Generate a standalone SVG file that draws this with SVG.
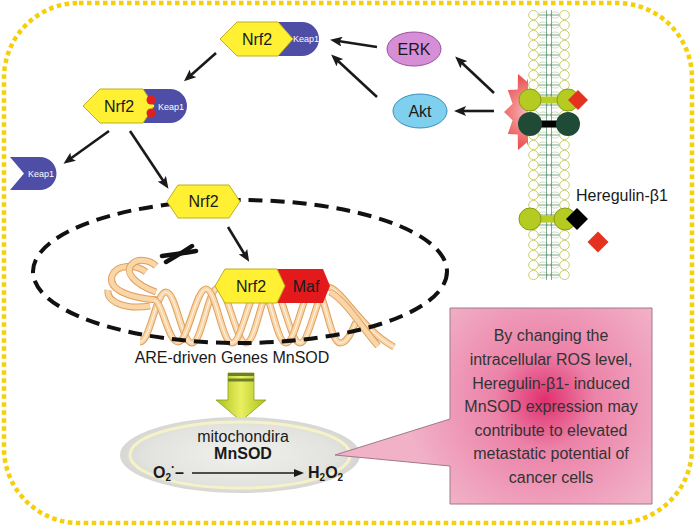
<svg xmlns="http://www.w3.org/2000/svg" width="699" height="527" viewBox="0 0 699 527">
<style>
text{font-family:"Liberation Sans",Arial,sans-serif;}
.nrf{fill:#FFF033;stroke:#BFAE22;stroke-width:1;}
.keap{fill:#4E4EA6;}
.kt{fill:#fff;font-size:9px;text-anchor:middle;}
.lbl{font-size:16px;fill:#1a1a1a;text-anchor:middle;}
.arr{stroke:#1a1a1a;stroke-width:2.6;fill:none;marker-end:url(#ah);}
.lg{fill:#B5CB22;stroke:#8A9C12;stroke-width:1;}
.dg{fill:#1E4A36;}
.rib0{fill:none;stroke:#DDA062;stroke-width:7;stroke-linecap:butt;}
.rib1{fill:none;stroke:#FAD5A6;stroke-width:5;stroke-linecap:butt;}
.rib2{fill:none;stroke:#FFF6EA;stroke-width:1;}
.ct{font-size:16px;fill:#333;text-anchor:middle;}
</style>
<defs>
<marker id="ah" viewBox="0 0 12 10" refX="4" refY="5" markerWidth="12" markerHeight="10" markerUnits="userSpaceOnUse" orient="auto">
<path d="M0,0 L12,5 L0,10 L2.5,5 Z" fill="#1a1a1a"/>
</marker>
<marker id="ah2" viewBox="0 0 10 8" refX="8" refY="4" markerWidth="10" markerHeight="8" markerUnits="userSpaceOnUse" orient="auto">
<path d="M0,0 L10,4 L0,8 Z" fill="#1a1a1a"/>
</marker>
<pattern id="lipid" x="528" y="10" width="42" height="10" patternUnits="userSpaceOnUse">
<rect width="42" height="10" fill="#fff"/>
<ellipse cx="15" cy="5" rx="4.5" ry="3" fill="none" stroke="#A9CC90" stroke-width="0.6"/>
<ellipse cx="27" cy="5" rx="4.5" ry="3" fill="none" stroke="#A9CC90" stroke-width="0.6"/>
<line x1="18.5" y1="0" x2="18.5" y2="10" stroke="#4A8A65" stroke-width="0.7"/>
<line x1="23.5" y1="0" x2="23.5" y2="10" stroke="#4A8A65" stroke-width="0.7"/>
<line x1="11" y1="5" x2="31" y2="5" stroke="#3E7B58" stroke-width="0.7"/>
<ellipse cx="5.5" cy="5" rx="4.8" ry="4.6" fill="#fff" stroke="#C4C858" stroke-width="0.9"/>
<ellipse cx="36.5" cy="5" rx="4.8" ry="4.6" fill="#fff" stroke="#C4C858" stroke-width="0.9"/>
</pattern>
<radialGradient id="star" cx="532" cy="112" r="44" gradientUnits="userSpaceOnUse">
<stop offset="0" stop-color="#F9C4C4"/>
<stop offset="1" stop-color="#E83A3A"/>
</radialGradient>
<radialGradient id="mito" cx="0.5" cy="0.5" r="0.5">
<stop offset="0" stop-color="#F0F0EE"/>
<stop offset="0.8" stop-color="#E2E2DE"/>
<stop offset="1" stop-color="#D6D6D2"/>
</radialGradient>
<radialGradient id="pink" cx="545" cy="400" r="140" gradientUnits="userSpaceOnUse">
<stop offset="0" stop-color="#E0306E"/>
<stop offset="0.35" stop-color="#EC82A8"/>
<stop offset="1" stop-color="#F1B2C8"/>
</radialGradient>
<linearGradient id="garr" x1="0" y1="0" x2="1" y2="0">
<stop offset="0" stop-color="#A8C01C"/>
<stop offset="0.5" stop-color="#EAF060"/>
<stop offset="1" stop-color="#A8C01C"/>
</linearGradient>
</defs>

<rect id="cell-border" x="4" y="3" width="688" height="520" rx="75" ry="75" fill="none" stroke="#F5CF0A" stroke-width="4.5" stroke-dasharray="4.5 3.5"/>

<g id="nucleus-dna">
<path class="rib0" d="M158,300 C130,298 108,290 112,276 C116,264 136,264 146,272"/>
<path class="rib1" d="M158,300 C130,298 108,290 112,276 C116,264 136,264 146,272"/>
<path class="rib0" d="M156,292 C134,284 124,272 132,264 C138,258 150,260 156,266"/>
<path class="rib1" d="M156,292 C134,284 124,272 132,264 C138,258 150,260 156,266"/>
<path class="rib0" d="M150,306 C126,310 106,302 108,290"/>
<path class="rib1" d="M150,306 C126,310 106,302 108,290"/>
<path class="rib0" d="M140,342 C150,342 156,292 166,292 C176,292 182,343 192,343 C202,343 208,288 218,288 C228,288 236,343 246,343 C256,343 262,287 272,287 C282,287 290,343 300,343 C310,343 318,287 328,287 C340,287 362,330 394,347"/>
<path class="rib1" d="M140,342 C150,342 156,292 166,292 C176,292 182,343 192,343 C202,343 208,288 218,288 C228,288 236,343 246,343 C256,343 262,287 272,287 C282,287 290,343 300,343 C310,343 318,287 328,287 C340,287 362,330 394,347"/>
<path class="rib2" d="M140,342 C150,342 156,292 166,292 C176,292 182,343 192,343 C202,343 208,288 218,288 C228,288 236,343 246,343 C256,343 262,287 272,287 C282,287 290,343 300,343 C310,343 318,287 328,287 C340,287 362,330 394,347"/>
<path class="rib0" d="M154,300 C162,300 168,342 178,342 C188,342 196,289 206,289 C216,289 222,343 232,343 C242,343 250,287 260,287 C270,287 276,343 286,343 C296,343 304,286 314,286 C324,286 330,343 340,343 C348,343 352,330 356,322"/>
<path class="rib1" d="M154,300 C162,300 168,342 178,342 C188,342 196,289 206,289 C216,289 222,343 232,343 C242,343 250,287 260,287 C270,287 276,343 286,343 C296,343 304,286 314,286 C324,286 330,343 340,343 C348,343 352,330 356,322"/>
<path class="rib2" d="M154,300 C162,300 168,342 178,342 C188,342 196,289 206,289 C216,289 222,343 232,343 C242,343 250,287 260,287 C270,287 276,343 286,343 C296,343 304,286 314,286 C324,286 330,343 340,343 C348,343 352,330 356,322"/>
<path class="rib0" d="M330,292 C345,300 360,325 378,346"/>
<path class="rib1" d="M330,292 C345,300 360,325 378,346"/>
</g>

<g id="chromosome">
<path d="M162,256 Q179,254 196,251" fill="none" stroke="#111" stroke-width="4.5" stroke-linecap="round"/>
<path d="M166,262 Q180,254 192,246" fill="none" stroke="#111" stroke-width="4.5" stroke-linecap="round"/>
</g>

<ellipse id="nucleus" cx="240" cy="271.5" rx="207" ry="71.5" fill="none" stroke="#111" stroke-width="4" stroke-dasharray="14 8"/>

<g id="membrane">
<polygon fill="url(#star)" points="560,112 551.5,120.2 556.2,134 546.3,134.4 546,150.1 537.2,142.6 532,156 526.8,142.6 518,150.1 517.7,134.4 507.8,134 512.5,120.2 504,112 512.5,103.8 507.8,90 517.7,89.6 518,73.9 526.8,81.4 532,68 537.2,81.4 546,73.9 546.3,89.6 556.2,90 551.5,103.8"/>
<rect x="528" y="10" width="42" height="270" fill="url(#lipid)"/>
</g>

<g id="receptor-active">
<rect x="530" y="96.5" width="38" height="7" fill="#B8CE22"/>
<circle class="lg" cx="530" cy="100" r="11"/>
<circle class="lg" cx="568" cy="100" r="11"/>
<polygon points="578,90 588,100 578,110 568,100" fill="#E5321F"/>
<rect x="530" y="120.5" width="38" height="7" fill="#000"/>
<circle class="dg" cx="530" cy="124" r="12"/>
<circle class="dg" cx="568" cy="124" r="12"/>
</g>

<g id="receptor-ligand">
<rect x="530" y="215.5" width="35" height="7" fill="#B8CE22"/>
<circle class="lg" cx="530" cy="219" r="11"/>
<circle class="lg" cx="565" cy="219" r="11"/>
<polygon points="577,208 588,219 577,230 566,219" fill="#000"/>
</g>

<g id="heregulin">
<polygon points="598,231.5 608.5,242 598,252.5 587.5,242" fill="#E5321F"/>
<text x="576" y="201" font-size="16" fill="#1a1a1a">Heregulin-β1</text>
</g>

<g id="erk">
<ellipse cx="414" cy="49" rx="27" ry="17" fill="#D68FD6" stroke="#9A4FA0" stroke-width="1"/>
<text class="lbl" x="414" y="55">ERK</text>
</g>
<g id="akt">
<ellipse cx="420" cy="111" rx="27" ry="17" fill="#7FD0EE" stroke="#3A8FB8" stroke-width="1"/>
<text class="lbl" x="420" y="117">Akt</text>
</g>

<g id="nrf2-keap1-top">
<path class="keap" d="M270,22 H302 A17,17 0 0 1 302,56 H270 Z"/>
<polygon class="nrf" points="220,39 237,22 278,22 293,39 278,56 237,56"/>
<text class="lbl" x="257" y="45">Nrf2</text>
<text class="kt" x="306" y="42">Keap1</text>
</g>

<g id="nrf2-keap1-modified">
<path class="keap" d="M140,89 H170 A17,17 0 0 1 170,123 H140 Z"/>
<polygon class="nrf" points="83,106 100,89 143,89 154,106 143,123 100,123"/>
<circle cx="151" cy="100" r="4.5" fill="#E02020"/>
<circle cx="151" cy="113" r="4.5" fill="#E02020"/>
<rect x="149" y="105" width="5" height="2" fill="#FFF033"/>
<text class="lbl" x="119" y="112">Nrf2</text>
<text class="kt" x="171" y="110">Keap1</text>
</g>

<g id="keap1-free">
<path class="keap" d="M10,157 H40 A16.5,16.5 0 0 1 40,190 H10 L24,173.5 Z"/>
<text class="kt" x="41" y="176.5">Keap1</text>
</g>

<g id="nrf2-free">
<polygon class="nrf" points="167,201.5 178,185 229,185 240,201.5 229,218 178,218"/>
<text class="lbl" x="203.5" y="207" font-size="15">Nrf2</text>
</g>

<g id="nrf2-maf">
<polygon points="270,269 323,269 330,286 323,303 270,303" fill="#E3191C"/>
<polygon class="nrf" points="215,286 225,269 277,269 285,286 277,303 225,303"/>
<text class="lbl" x="251" y="292" font-size="15">Nrf2</text>
<text class="lbl" x="306" y="292" font-size="15" fill="#3a0000">Maf</text>
</g>

<g id="connectors">
<line class="arr" x1="494" y1="93" x2="461" y2="62"/>
<line class="arr" x1="494" y1="111" x2="462" y2="111"/>
<line class="arr" x1="377" y1="47" x2="338" y2="41"/>
<line class="arr" x1="377" y1="97" x2="337" y2="60"/>
<line class="arr" x1="216" y1="53" x2="190" y2="76"/>
<line class="arr" x1="109" y1="131" x2="70" y2="159"/>
<line class="arr" x1="130" y1="131" x2="164" y2="182"/>
<line class="arr" x1="228" y1="227" x2="245" y2="255"/>
</g>

<text id="are-label" class="lbl" x="232" y="363">ARE-driven Genes MnSOD</text>

<g id="green-arrow">
<path d="M228,373 H254 V400 H266 L241,421 L216,400 H228 Z" fill="url(#garr)" stroke="#8EA020" stroke-width="0.8"/>
<rect x="228" y="373" width="26" height="3" fill="#6E7F2A"/>
<rect x="228" y="378.5" width="26" height="3" fill="#6E7F2A"/>
</g>

<g id="mitochondria">
<ellipse cx="240" cy="455" rx="120" ry="38" fill="url(#mito)"/>
<ellipse cx="240" cy="455" rx="110" ry="33" fill="none" stroke="#F5F2C8" stroke-width="3"/>
<text class="lbl" x="243" y="442" font-size="15.5">mitochondira</text>
<text class="lbl" x="243" y="459" font-weight="bold">MnSOD</text>
<text x="153" y="478" font-size="16" font-weight="bold" fill="#1a1a1a">O<tspan font-size="10" dy="3">2</tspan><tspan font-size="12" dy="-10">·</tspan><tspan dy="7">–</tspan></text>
<line x1="192" y1="473" x2="302" y2="473" stroke="#1a1a1a" stroke-width="1.5" marker-end="url(#ah2)"/>
<text x="308" y="478" font-size="16" font-weight="bold" fill="#1a1a1a">H<tspan font-size="10" dy="3">2</tspan><tspan dy="-3">O</tspan><tspan font-size="10" dy="3">2</tspan></text>
</g>

<g id="callout">
<path d="M450,308 H652 V504 H450 V466 L335,455 L450,419 Z" fill="url(#pink)" stroke="#A07A86" stroke-width="1"/>
<text class="ct" x="551" y="341">By changing the</text>
<text class="ct" x="551" y="365">intracellular ROS level,</text>
<text class="ct" x="551" y="389">Heregulin-β1- induced</text>
<text class="ct" x="551" y="412">MnSOD expression may</text>
<text class="ct" x="551" y="436">contribute to elevated</text>
<text class="ct" x="551" y="459">metastatic potential of</text>
<text class="ct" x="551" y="483">cancer cells</text>
</g>
</svg>
